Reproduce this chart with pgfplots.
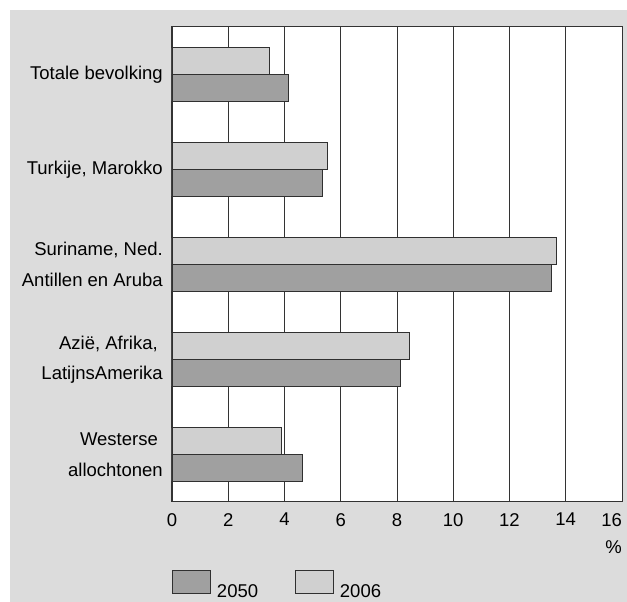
\documentclass[border=0pt]{standalone}
\usepackage{fontspec}
\setmainfont{Liberation Sans}
\usepackage{pgfplots}
\pgfplotsset{compat=1.18}
\definecolor{bg}{HTML}{DCDCDC}
\definecolor{c2006}{HTML}{D0D0D0}
\definecolor{c2050}{HTML}{A0A0A0}
\definecolor{edge}{HTML}{303030}
\begin{document}
\begin{tikzpicture}
\path[use as bounding box] (-172pt,-100pt) rectangle (455pt,502pt);
\fill[bg] (-162pt,-100pt) rectangle (455pt,492pt);
\begin{axis}[
  at={(0pt,0pt)}, anchor=south west,
  scale only axis, width=450pt, height=475pt,
  xmin=0, xmax=16, ymin=-0.5, ymax=4.5,
  xbar, bar width=0.28,
  xtick={0,2,...,16}, ytick={0,1,2,3,4},
  xticklabels={0,2,4,6,8,10,12,14,{\makebox[0pt][r]{16}}},
  yticklabels={{Westerse\hspace*{5pt}\\allochtonen},{Azië, Afrika,\hspace*{5pt}\\LatijnsAmerika},{Suriname, Ned.\\Antillen en Aruba},{Turkije, Marokko},{Totale bevolking}},
  major tick length=0,
  xmajorgrids, major grid style={draw=black!80, line width=0.9pt},
  axis line style={draw=black!80, line width=1pt},
  axis background/.style={fill=white},
  /pgf/number format/assume math mode=true,
  tick label style={font=\fontsize{18.5}{30.5}\selectfont, inner sep=0pt},
  yticklabel style={align=right, xshift=-9pt},
  xticklabel style={yshift=-11pt},
  xlabel={\%},
  xlabel style={at={(axis description cs:1,0)}, anchor=north east, inner sep=0pt, yshift=-38pt, font=\fontsize{18.5}{22}\selectfont},
  legend columns=2,
  legend style={at={(0,-0.143)}, anchor=north west, draw=none, fill=none, inner sep=0pt,
    font=\fontsize{18.5}{22}\selectfont,
    /tikz/every odd column/.append style={column sep=4pt},
    /tikz/every even column/.append style={column sep=35pt}},
  legend image code/.code={\draw[#1, draw=edge] (0pt,-2pt) rectangle (38pt,21pt);},
]
\addplot[fill=c2050, draw=edge, line width=0.8pt, bar shift=-0.14] coordinates {(4.62,0) (8.13,1) (13.48,2) (5.33,3) (4.14,4)};
\addlegendentry{2050}
\addplot[fill=c2006, draw=edge, line width=0.8pt, bar shift=0.14] coordinates {(3.89,0) (8.45,1) (13.65,2) (5.53,3) (3.46,4)};
\addlegendentry{2006}
\end{axis}
\end{tikzpicture}
\end{document}
